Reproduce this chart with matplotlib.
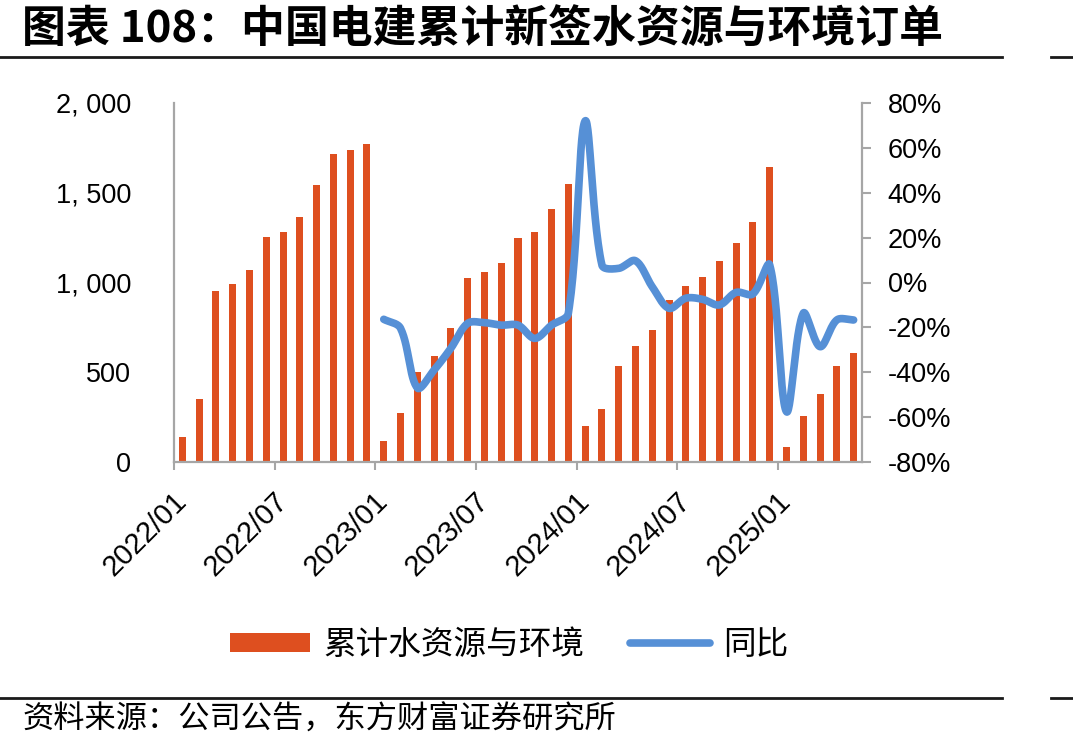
import numpy as np
import matplotlib
matplotlib.use("Agg")
import matplotlib.pyplot as plt
from matplotlib.lines import Line2D
from matplotlib.patches import Patch
from matplotlib.ticker import FuncFormatter, FixedLocator

# ---------------- data ----------------
months = [f"{y}/{m:02d}" for y in (2022, 2023, 2024) for m in range(1, 13)] + \
         [f"2025/{m:02d}" for m in range(1, 6)]
cum_orders = [137, 349, 951, 990, 1070, 1253, 1281, 1363, 1541, 1716, 1738, 1770,
              115, 271, 501, 590, 745, 1023, 1057, 1109, 1246, 1281, 1409, 1549,
              199, 295, 535, 646, 735, 901, 979, 1031, 1120, 1220, 1335, 1643,
              84, 255, 379, 535, 607]
yoy_start = 12  # 2023/01
yoy = [-16.4, -20.4, -47.0, -39.0, -29.3, -18.2, -17.9, -19.0, -19.0, -24.9, -19.0, -13.7,
       72.0, 7.8, 6.3, 9.7, -1.9, -11.5, -7.0, -7.5, -10.0, -4.4, -5.1, 7.8,
       -57.6, -13.7, -28.6, -16.7, -16.7]
label_months = ["2022/01", "2022/07", "2023/01", "2023/07", "2024/01", "2024/07", "2025/01"]

title = "图表 108：中国电建累计新签水资源与环境订单"
source = "资料来源：公司公告，东方财富证券研究所"
bar_name = "累计水资源与环境"
line_name = "同比"

BAR_C = "#DE4F1F"
LINE_C = "#5690D6"
AX_C = "#A6A6A6"

plt.rcParams['font.family'] = ['Liberation Sans', 'Noto Sans CJK SC', 'DejaVu Sans']

W, H = 1073, 751
fig = plt.figure(figsize=(W / 100, H / 100), dpi=100)
L, R, T, B = 174, 862, 103, 462
ax = fig.add_axes([L / W, 1 - B / H, (R - L) / W, (B - T) / H])

x = np.arange(len(months))
ax.bar(x, cum_orders, width=0.42, color=BAR_C, zorder=2)
ax.set_xlim(-0.5, len(months) - 0.5)
ax.set_ylim(0, 2000)
ax.set_yticks([0, 500, 1000, 1500, 2000])
ax.yaxis.set_major_formatter(FuncFormatter(lambda v, p: f"{int(v):,}".replace(",", ", ")))
ax.tick_params(axis='y', length=0, pad=31, labelsize=19.5)

# x ticks at category boundaries every 6 months, labels at category centres
label_idx = [months.index(m) for m in label_months]
ax.xaxis.set_major_locator(FixedLocator([i - 0.5 for i in label_idx]))
ax.set_xticklabels([])
ax.tick_params(axis='x', which='major', length=6, width=1.5, color=AX_C, direction='out')
ax.set_xticks(label_idx, minor=True)
ax.set_xticklabels(label_months, minor=True, rotation=45, ha='right', va='center',
                   rotation_mode='anchor', fontsize=21)
ax.tick_params(axis='x', which='minor', length=0, pad=25)

for s in ['top', 'right']:
    ax.spines[s].set_visible(False)
for s in ['left', 'bottom']:
    ax.spines[s].set_color(AX_C)
    ax.spines[s].set_linewidth(1.6)

# ---- YoY line with Excel-like smoothing (cubic Bezier through points) ----
ax2 = ax.twinx()
ax2.set_ylim(-80, 80)
ax2.set_yticks(np.arange(-80, 81, 20))
ax2.yaxis.set_major_formatter(FuncFormatter(lambda v, p: f"{int(v)}%"))
ax2.tick_params(axis='y', length=6.5, width=1.5, color=AX_C, direction='out', pad=12, labelsize=19.5)
for s in ['top', 'left', 'bottom']:
    ax2.spines[s].set_visible(False)
ax2.spines['right'].set_color(AX_C)
ax2.spines['right'].set_linewidth(1.6)

# work in approximate screen units so smoothing behaves like the original
sx = (R - L) / len(months)   # px per category
sy = (B - T) / 160.0         # px per percentage point
px = np.arange(yoy_start, yoy_start + len(yoy), dtype=float)
py = np.array(yoy, dtype=float)
P = np.column_stack([px * sx, py * sy])
n = len(P)
cin = np.zeros_like(P)
cout = np.zeros_like(P)
for i in range(n):
    prev = P[i - 1] if i > 0 else P[i]
    nxt = P[i + 1] if i + 1 < n else P[i]
    tan = nxt - prev
    d1 = np.hypot(*(P[i] - prev))
    d2 = np.hypot(*(nxt - P[i]))
    tot = d1 + d2 if d1 + d2 > 0 else 1.0
    cin[i] = P[i] - tan * (d1 / tot) / 3.0
    cout[i] = P[i] + tan * (d2 / tot) / 3.0
t = np.linspace(0, 1, 30)[:, None]
curve = []
for i in range(n - 1):
    p1, c1, c2, p2 = P[i], cout[i], cin[i + 1], P[i + 1]
    seg = (1 - t) ** 3 * p1 + 3 * (1 - t) ** 2 * t * c1 + 3 * (1 - t) * t ** 2 * c2 + t ** 3 * p2
    curve.append(seg if i == 0 else seg[1:])
curve = np.vstack(curve)
ax2.plot(curve[:, 0] / sx, curve[:, 1] / sy, color=LINE_C, lw=5.5,
         solid_capstyle='round', zorder=3)

# ---- legend ----
handles = [Patch(facecolor=BAR_C, edgecolor='none'),
           Line2D([0], [0], color=LINE_C, lw=5.5, solid_capstyle='round')]
leg = fig.legend(handles, [bar_name, line_name], loc='center', ncol=2,
                 bbox_to_anchor=(509 / W, 1 - 645 / H), frameon=False,
                 prop={'family': ['Noto Sans CJK SC'], 'size': 23.5},
                 handlelength=2.45, handleheight=0.55, handletextpad=0.4, columnspacing=1.4)

# ---- title, rules, source ----
fig.text(22 / W, 1 - 30 / H, title, fontsize=31.6, fontweight='bold',
         family=['Noto Sans CJK SC'], va='center', ha='left')
for yy in (57, 698):
    fig.add_artist(Line2D([0, 1002 / W], [1 - yy / H] * 2, color='#1a1a1a', lw=2))
    fig.add_artist(Line2D([1051 / W, 1], [1 - yy / H] * 2, color='#1a1a1a', lw=2))
fig.text(22 / W, 1 - 720 / H, source, fontsize=22.5, family=['Noto Sans CJK SC'],
         va='center', ha='left')

fig.savefig("out.png", dpi=100)
